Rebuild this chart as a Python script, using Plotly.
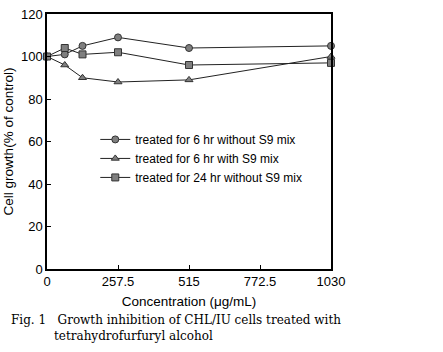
import plotly.graph_objects as go

conc = [0, 64.375, 128.75, 257.5, 515, 1030]
s6_noS9 = [100, 101, 105, 109, 104, 105]
s6_S9 = [100, 96, 90, 88, 89, 100]
s24_noS9 = [100, 104, 101, 102, 96, 97]
xticks = [0, 257.5, 515, 772.5, 1030]
xticklabels = ["0", "257.5", "515", "772.5", "1030"]
yticks = [0, 20, 40, 60, 80, 100, 120]

names = ["treated for 6 hr without S9 mix", "treated for 6 hr with S9 mix", "treated for 24 hr without S9 mix"]
symbols = ["circle", "triangle-up", "square"]
series = [s6_noS9, s6_S9, s24_noS9]

fig = go.Figure()
for n, s, y in zip(names, symbols, series):
    fig.add_trace(go.Scatter(
        x=conc, y=y, name=n, mode="lines+markers",
        line=dict(color="#222222", width=1),
        marker=dict(symbol=s, size=7, color="#7f7f7f", line=dict(color="#333333", width=1)),
        cliponaxis=False,
    ))

sans = "Liberation Sans, Arial"
axis_common = dict(showline=True, linecolor="black", linewidth=1.5, mirror=True,
                   ticks="inside", ticklen=4, tickcolor="black", showgrid=False, zeroline=False,
                   tickfont=dict(family=sans, size=13, color="black"))

fig.update_layout(
    width=443, height=352,
    margin=dict(l=46, r=112, t=7, b=83),
    paper_bgcolor="white", plot_bgcolor="white",
    showlegend=True,
    legend=dict(x=0.17, y=0.565, xanchor="left", yanchor="top",
                bgcolor="rgba(0,0,0,0)", font=dict(family=sans, size=12, color="black"),
                itemwidth=30, tracegroupgap=0),
    xaxis=dict(range=[0, 1030], tickvals=xticks, ticktext=xticklabels,
               title=dict(text="Concentration (μg/mL)", font=dict(family=sans, size=13.5, color="black"), standoff=8),
               **axis_common),
    yaxis=dict(range=[0, 120], tickvals=yticks,
               title=dict(text="Cell growth(% of control)", font=dict(family=sans, size=13.5, color="black"), standoff=4),
               **axis_common),
)

serif = dict(family="DejaVu Serif, Liberation Serif", size=12, color="black")
fig.add_annotation(xref="paper", yref="paper", x=-0.133, y=-0.2, xanchor="left", yanchor="middle",
                   text="Fig. 1   Growth inhibition of CHL/IU cells treated with",
                   showarrow=False, align="left", font=serif)
fig.add_annotation(xref="paper", yref="paper", x=0.0175, y=-0.263, xanchor="left", yanchor="middle",
                   text="tetrahydrofurfuryl alcohol",
                   showarrow=False, align="left", font=serif)

fig.write_html("out.html")
